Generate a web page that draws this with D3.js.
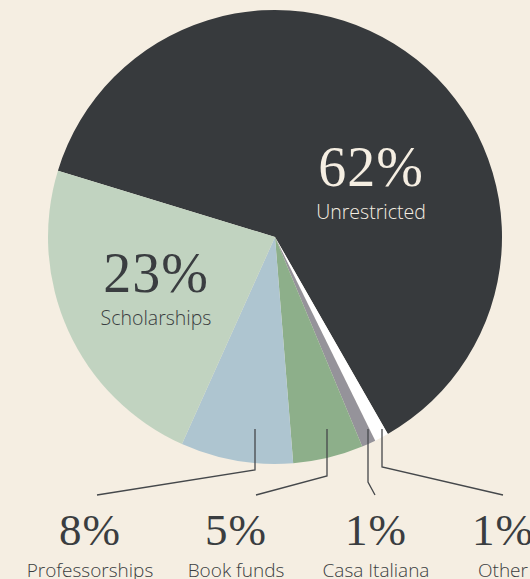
<!DOCTYPE html>
<html><head><meta charset="utf-8">
<script src="https://cdn.jsdelivr.net/npm/d3@7"></script>
<style>
html,body{margin:0;padding:0;background:#f5eee2;overflow:hidden}
svg{display:block}
</style></head>
<body>
<svg id="chart" width="530" height="579"></svg>
<script>
// Data (clockwise order starting from the Unrestricted slice)
const categories = ["Unrestricted", "Other", "Casa Italiana", "Book funds", "Professorships", "Scholarships"];
const values = [62, 1, 1, 5, 8, 23];
const valueLabels = ["62%", "1%", "1%", "5%", "8%", "23%"];
const colors = ["#373a3d", "#ffffff", "#95939a", "#8daf8a", "#aec5d0", "#c1d3c0"];

const W = 530, H = 579;
const cx = 275, cy = 237, R = 227;
const startDeg = -73;

const svg = d3.select("#chart");
svg.append("rect").attr("width", W).attr("height", H).attr("fill", "#f5eee2");

const pie = d3.pie().sort(null).value(d => d.v)
  .startAngle(startDeg * Math.PI / 180)
  .endAngle((startDeg + 360) * Math.PI / 180);
const arc = d3.arc().innerRadius(0).outerRadius(R);
const data = categories.map((c, i) => ({c, v: values[i], lab: valueLabels[i], col: colors[i]}));
const arcs = pie(data);

const g = svg.append("g").attr("transform", `translate(${cx},${cy})`);
g.selectAll("path").data(arcs).join("path")
  .attr("d", arc)
  .attr("fill", d => d.data.col);

// In-pie labels (layout positions)
const inside = {
  "Unrestricted": {x: 371, y: 186, fill: "#f5eee2"},
  "Scholarships": {x: 156, y: 292, fill: "#3a3d40"}
};
const serif = "'Liberation Serif','Times New Roman',serif";
const sans = "'Open Sans','Noto Sans',sans-serif";
arcs.filter(a => inside[a.data.c]).forEach(a => {
  const p = inside[a.data.c];
  svg.append("text").attr("x", p.x).attr("y", p.y).attr("text-anchor", "middle")
    .attr("font-family", serif).attr("font-size", 56).attr("letter-spacing", 1)
    .attr("fill", p.fill).text(a.data.lab);
  svg.append("text").attr("x", p.x).attr("y", p.y + 33).attr("text-anchor", "middle")
    .attr("font-family", sans).attr("font-size", 19.5).attr("font-weight", 300)
    .attr("fill", p.fill).text(a.data.c);
});

// Outside labels with leader lines (layout)
const outside = {
  "Professorships": {lx: 255, elbow: 470, ex: 97, tx: 90},
  "Book funds": {lx: 327, elbow: 476, ex: 256, tx: 236},
  "Casa Italiana": {lx: 368, elbow: 482, ex: 375, tx: 376},
  "Other": {lx: 382, elbow: 467, ex: 503, tx: 503}
};
const lineTop = 429, lineEnd = 495;
arcs.filter(a => outside[a.data.c]).forEach(a => {
  const p = outside[a.data.c];
  svg.append("path")
    .attr("d", d3.line()([[p.lx, lineTop], [p.lx, p.elbow], [p.ex, lineEnd]]))
    .attr("fill", "none").attr("stroke", "#45484b").attr("stroke-width", 1.3);
  svg.append("text").attr("x", p.tx).attr("y", 545).attr("text-anchor", "middle")
    .attr("font-family", serif).attr("font-size", 45).attr("letter-spacing", 1)
    .attr("fill", "#3a3d40").text(a.data.lab);
  svg.append("text").attr("x", p.tx).attr("y", 577).attr("text-anchor", "middle")
    .attr("font-family", sans).attr("font-size", 19).attr("font-weight", 300)
    .attr("fill", "#3a3d40").text(a.data.c);
});
</script>
</body></html>
